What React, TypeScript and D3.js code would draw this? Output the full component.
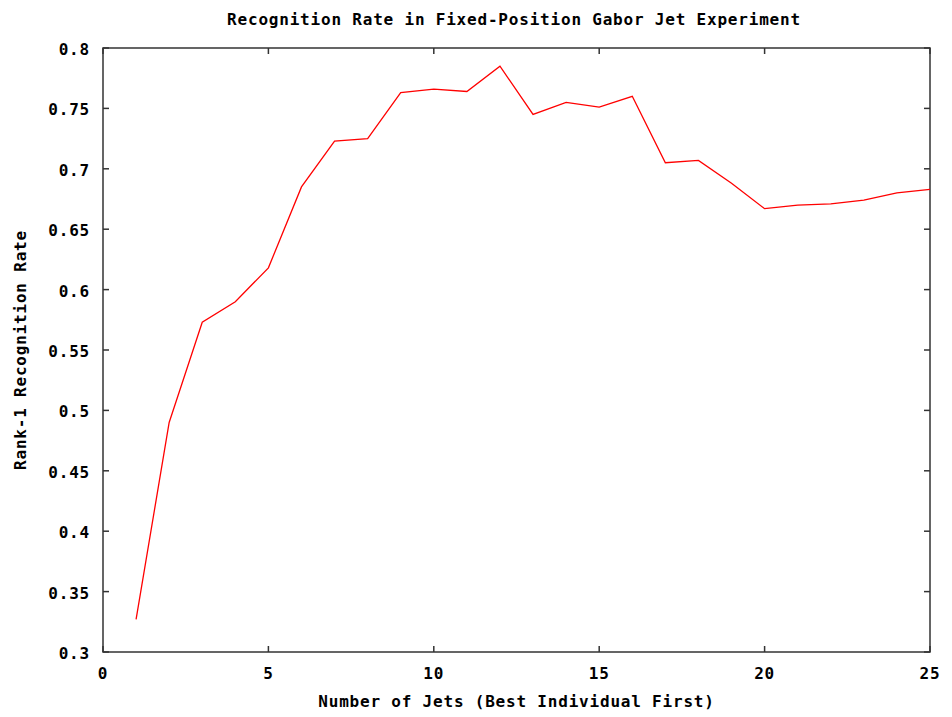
import React, { useEffect, useRef } from "react"
import * as d3 from "d3"

// number of jets (x) and rank-1 recognition rate (y)
const jets = [1, 2, 3, 4, 5, 6, 7, 8, 9, 10, 11, 12, 13, 14, 15, 16, 17, 18, 19, 20, 21, 22, 23, 24, 25]
const rates = [0.327, 0.490, 0.573, 0.590, 0.618, 0.685, 0.723, 0.725, 0.763, 0.766, 0.764, 0.785, 0.745, 0.755, 0.751, 0.760, 0.705, 0.707, 0.688, 0.667, 0.670, 0.671, 0.674, 0.680, 0.683]
const xTicks = [0, 5, 10, 15, 20, 25]
const yTicks = [0.3, 0.35, 0.4, 0.45, 0.5, 0.55, 0.6, 0.65, 0.7, 0.75, 0.8]

const title = "Recognition Rate in Fixed-Position Gabor Jet Experiment"
const xLabel = "Number of Jets (Best Individual First)"
const yLabel = "Rank-1 Recognition Rate"

export default function App() {
  const ref = useRef<SVGSVGElement>(null)

  useEffect(() => {
    const W = 952, H = 717
    const m = { left: 103, right: 22, top: 48, bottom: 65 }
    const svg = d3.select(ref.current)
    svg.selectAll("*").remove()

    const x = d3.scaleLinear().domain([0, 25]).range([m.left, W - m.right])
    const y = d3.scaleLinear().domain([0.3, 0.8]).range([H - m.bottom, m.top])

    const font = "'DejaVu Sans Mono', monospace"
    const txt = (s: d3.Selection<SVGTextElement, any, any, any>) =>
      s.attr("font-family", font).attr("font-size", 16).attr("font-weight", "bold")
        .attr("letter-spacing", 0.8).attr("fill", "#000")

    const axisCol = "#333"
    const tl = 6

    // frame
    svg.append("rect")
      .attr("x", x(0)).attr("y", y(0.8))
      .attr("width", x(25) - x(0)).attr("height", y(0.3) - y(0.8))
      .attr("fill", "none").attr("stroke", axisCol).attr("stroke-width", 1.5)

    // ticks (inward, mirrored)
    const g = svg.append("g").attr("stroke", axisCol).attr("stroke-width", 1.5)
    xTicks.forEach(t => {
      g.append("line").attr("x1", x(t)).attr("x2", x(t)).attr("y1", y(0.3)).attr("y2", y(0.3) - tl)
      g.append("line").attr("x1", x(t)).attr("x2", x(t)).attr("y1", y(0.8)).attr("y2", y(0.8) + tl)
    })
    yTicks.forEach(t => {
      g.append("line").attr("x1", x(0)).attr("x2", x(0) + tl).attr("y1", y(t)).attr("y2", y(t))
      g.append("line").attr("x1", x(25)).attr("x2", x(25) - tl).attr("y1", y(t)).attr("y2", y(t))
    })

    // tick labels
    svg.append("g").selectAll("text").data(xTicks).join("text")
      .call(txt as any)
      .attr("x", d => x(d)).attr("y", y(0.3) + 27)
      .attr("text-anchor", "middle")
      .text(d => String(d))

    svg.append("g").selectAll("text").data(yTicks).join("text")
      .call(txt as any)
      .attr("x", x(0) - 13).attr("y", d => y(d) + 7)
      .attr("text-anchor", "end")
      .text(d => String(d))

    // line
    const line = d3.line<number>().x((d, i) => x(jets[i])).y(d => y(d))
    svg.append("path")
      .attr("d", line(rates))
      .attr("fill", "none").attr("stroke", "#ff0000").attr("stroke-width", 1.3)

    // titles
    svg.append("text").call(txt as any)
      .attr("x", 514).attr("y", 25).attr("text-anchor", "middle").text(title)
    svg.append("text").call(txt as any)
      .attr("x", (x(0) + x(25)) / 2).attr("y", 707).attr("text-anchor", "middle").text(xLabel)
    svg.append("text").call(txt as any)
      .attr("transform", `translate(26, ${(y(0.3) + y(0.8)) / 2}) rotate(-90)`)
      .attr("text-anchor", "middle").text(yLabel)
  }, [])

  return (
    <svg ref={ref} width={952} height={717}
      style={{ position: "absolute", left: 0, top: 0, background: "#fff" }} />
  )
}
